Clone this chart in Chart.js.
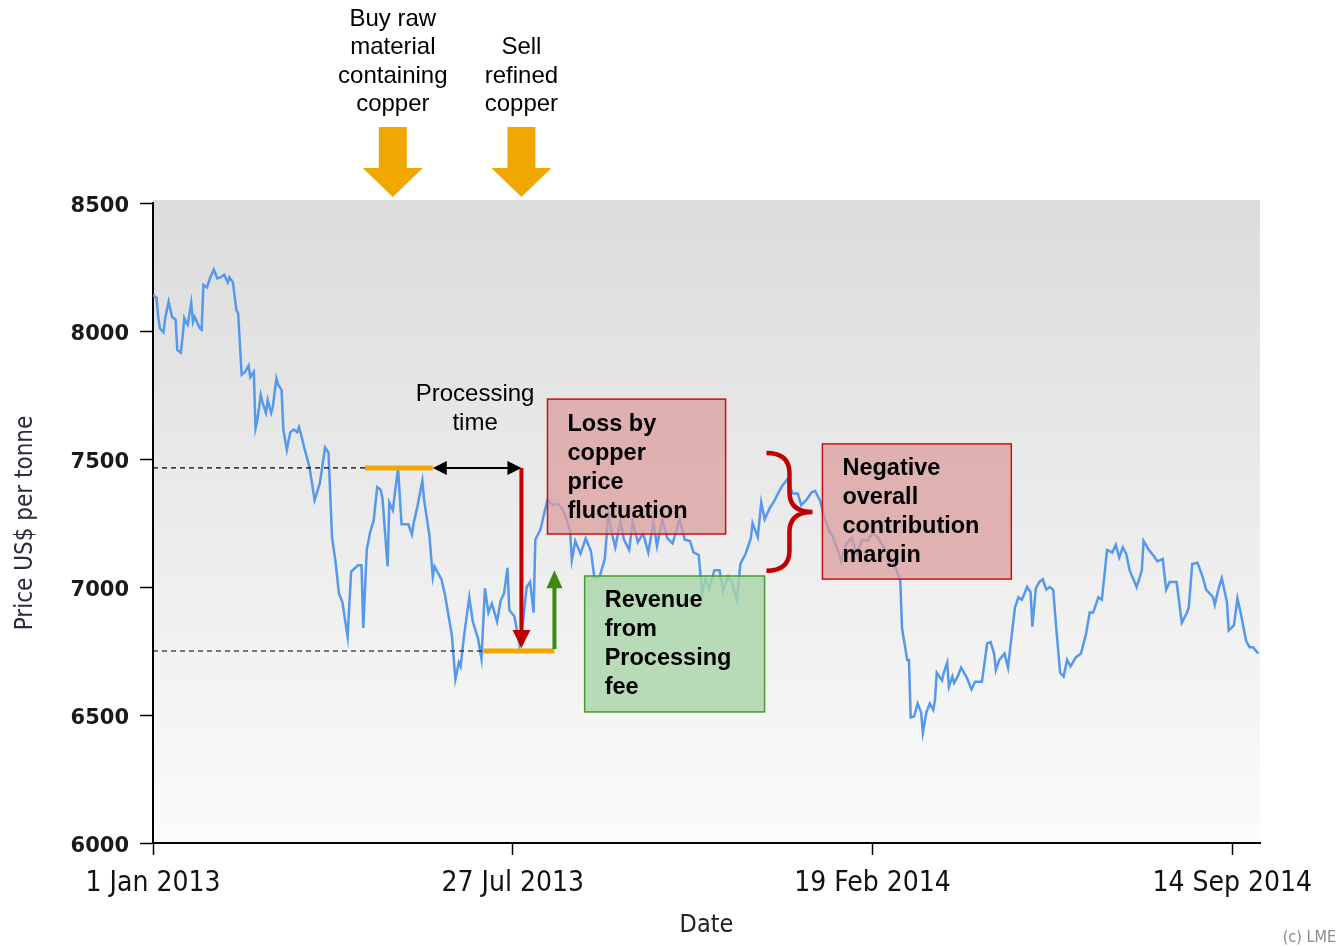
<!DOCTYPE html>
<html>
<head>
<meta charset="utf-8">
<script src="https://cdn.jsdelivr.net/npm/chart.js@4.4.0/dist/chart.umd.min.js"></script>
<style>
html, body { margin: 0; padding: 0; background: #fff; }
#wrap { width: 1338px; height: 947px; position: relative; }
</style>
</head>
<body>
<div id="wrap"><canvas id="chart" width="1338" height="947"></canvas></div>
<script>
// LME copper cash price, days counted from 1 Jan 2013
var days = [
  0,2,3,4,6,7,9,11,13,14,
  16,17,18,19,20,22,23,24,27,28,
  29,31,33,35,37,39,41,43,44,46,
  48,49,51,53,55,56,58,59,60,62,
  63,65,66,68,69,71,72,74,75,77,
  79,81,83,84,86,87,90,93,96,99,
  101,103,105,107,109,112,114,118,120,121,
  123,125,127,129,131,132,135,136,138,141,
  143,147,149,150,152,155,156,159,161,162,
  166,168,172,174,176,177,179,182,184,187,
  189,191,193,195,198,200,202,204,205,208,
  211,213,215,217,219,220,223,225,227,230,
  233,236,240,241,243,246,249,252,254,257,
  260,262,264,266,269,271,274,276,279,282,
  285,288,290,293,296,299,303,306,309,311,
  314,316,318,320,323,326,328,331,333,336,
  338,341,344,345,348,350,352,355,357,360,
  362,365,366,368,371,373,376,379,381,384,
  386,389,391,394,396,399,402,405,408,411,
  414,417,420,423,426,428,430,431,434,435,
  436,438,440,442,443,445,447,449,450,451,
  454,455,457,458,460,461,463,465,468,471,
  473,477,480,482,484,485,487,490,492,494,
  496,498,500,503,505,506,508,510,512,514,
  516,518,520,522,524,526,528,531,534,537,
  539,541,544,546,549,552,554,556,558,560,
  562,566,569,570,573,576,578,581,583,585,
  589,592,595,596,598,601,604,606,610,611,
  613,615,618,619,622,624,626,629,631,633,
  636
];
var prices = [
  8140,8130,8055,8010,7995,8050,8115,8055,8045,7925,
  7915,7975,8050,8035,8025,8110,8035,8055,8010,8005,
  8180,8170,8210,8240,8205,8210,8220,8190,8210,8190,
  8080,8070,7830,7840,7865,7820,7840,7620,7650,7750,
  7720,7680,7730,7680,7705,7815,7790,7770,7615,7535,
  7605,7615,7605,7625,7575,7545,7470,7340,7405,7545,
  7525,7195,7100,6975,6940,6805,7060,7085,7085,6840,
  7145,7215,7260,7390,7380,7350,7080,7330,7300,7465,
  7245,7245,7205,7250,7310,7415,7340,7205,7040,7080,
  7030,6970,6810,6640,6705,6690,6810,6960,6865,6800,
  6720,6995,6900,6935,6865,6945,6975,7075,6910,6885,
  6770,6870,7000,7020,6900,7185,7225,7285,7340,7320,
  7325,7300,7220,7105,7180,7130,7190,7140,7035,7040,
  7110,7290,7210,7155,7260,7185,7145,7255,7175,7210,
  7135,7255,7160,7265,7190,7170,7265,7185,7180,7135,
  7125,6975,7030,6990,7065,7065,6985,7040,7020,6950,
  7090,7130,7190,7250,7195,7330,7265,7310,7330,7370,
  7395,7420,7405,7365,7365,7320,7340,7370,7375,7335,
  7280,7220,7200,7145,7100,7170,7190,7130,7185,7180,
  7210,7195,7160,7135,7095,7065,7025,6840,6715,6715,
  6490,6495,6545,6510,6430,6510,6545,6520,6560,6665,
  6635,6665,6705,6610,6650,6625,6650,6685,6650,6600,
  6630,6630,6780,6785,6740,6675,6715,6740,6685,6805,
  6920,6960,6950,7000,6980,6845,6995,7020,7030,6990,
  7000,6990,6820,6665,6650,6715,6690,6725,6740,6820,
  6900,6900,6960,6950,7145,7135,7165,7115,7155,7130,
  7065,7000,7065,7180,7145,7120,7100,7110,6990,7020,
  7020,6860,6900,6920,7090,7095,7040,6990,6960,6930,
  6990,7035,6940,6830,6850,6955,6895,6790,6765,6765,
  6740
];
var tickDays = [0, 207, 414, 621];
var tickLabels = ['1 Jan 2013', '27 Jul 2013', '19 Feb 2014', '14 Sep 2014'];
var priceTicks = [6000, 6500, 7000, 7500, 8000, 8500];

// annotation levels (days / US$)
var buyDay = 138, sellDay = 212;
var buyPrice = 7465, sellPrice = 6750;
var buyBar = [122, 161], sellBar = [190, 231];
var redTip = 6762, greenDay = 231, greenTip = 7065;

var points = days.map(function (d, i) { return { x: d, y: prices[i] }; });

var ORANGE = '#f0a800', RED = '#c00000', GREEN = '#3b8a14';

function head(ctx, x, y, dir, len, half, color) {
  ctx.fillStyle = color;
  ctx.beginPath();
  ctx.moveTo(x, y);
  if (dir === 'left') { ctx.lineTo(x + len, y - half); ctx.lineTo(x + len, y + half); }
  if (dir === 'right') { ctx.lineTo(x - len, y - half); ctx.lineTo(x - len, y + half); }
  if (dir === 'down') { ctx.lineTo(x - half, y - len); ctx.lineTo(x + half, y - len); }
  if (dir === 'up') { ctx.lineTo(x - half, y + len); ctx.lineTo(x + half, y + len); }
  ctx.closePath();
  ctx.fill();
}

function lines(ctx, arr, x, y0, step) {
  arr.forEach(function (t, i) { ctx.fillText(t, x, y0 + i * step); });
}

function box(ctx, sx, sy, d0, d1, p0, p1, fill, stroke, text) {
  var l = sx.getPixelForValue(d0), r = sx.getPixelForValue(d1);
  var t = sy.getPixelForValue(p0), b = sy.getPixelForValue(p1);
  ctx.fillStyle = fill;
  ctx.fillRect(l, t, r - l, b - t);
  ctx.strokeStyle = stroke;
  ctx.lineWidth = 1.5;
  ctx.strokeRect(l, t, r - l, b - t);
  ctx.fillStyle = '#000';
  ctx.font = 'bold 23.5px "Liberation Sans", Arial, sans-serif';
  ctx.textAlign = 'left';
  ctx.textBaseline = 'middle';
  lines(ctx, text, l + 20, t + 25, 29);
}

var plotBg = {
  id: 'plotBg',
  beforeDraw: function (chart) {
    var a = chart.chartArea, ctx = chart.ctx;
    var g = ctx.createLinearGradient(0, a.top, 0, a.bottom);
    g.addColorStop(0, '#dcdcdc');
    g.addColorStop(1, '#fbfbfb');
    ctx.save();
    ctx.fillStyle = g;
    ctx.fillRect(a.left, a.top - 3, a.right - a.left, a.bottom - a.top + 3);
    ctx.restore();
  }
};

var notesPlugin = {
  id: 'notes',
  afterDatasetsDraw: function (chart) {
    var ctx = chart.ctx, sx = chart.scales.x, sy = chart.scales.y, a = chart.chartArea;
    ctx.save();

    // dashed reference levels
    var yBuy = sy.getPixelForValue(buyPrice), ySell = sy.getPixelForValue(sellPrice);
    ctx.strokeStyle = '#000';
    ctx.lineWidth = 1.2;
    ctx.setLineDash([5, 4]);
    ctx.beginPath();
    ctx.moveTo(a.left, yBuy); ctx.lineTo(sx.getPixelForValue(buyBar[0]), yBuy);
    ctx.moveTo(a.left, ySell); ctx.lineTo(sx.getPixelForValue(sellBar[0]), ySell);
    ctx.stroke();
    ctx.setLineDash([]);

    // orange price bars
    ctx.strokeStyle = ORANGE;
    ctx.lineWidth = 5;
    ctx.beginPath();
    ctx.moveTo(sx.getPixelForValue(buyBar[0]), yBuy); ctx.lineTo(sx.getPixelForValue(buyBar[1]), yBuy);
    ctx.moveTo(sx.getPixelForValue(sellBar[0]), ySell); ctx.lineTo(sx.getPixelForValue(sellBar[1]), ySell);
    ctx.stroke();

    // processing time double arrow
    var xa = sx.getPixelForValue(buyBar[1]), xs = sx.getPixelForValue(sellDay);
    ctx.strokeStyle = '#000';
    ctx.lineWidth = 2;
    ctx.beginPath();
    ctx.moveTo(xa + 10, yBuy); ctx.lineTo(xs - 10, yBuy);
    ctx.stroke();
    head(ctx, xa, yBuy, 'left', 14, 7, '#000');
    head(ctx, xs, yBuy, 'right', 14, 7, '#000');

    ctx.fillStyle = '#000';
    ctx.font = '24px "Liberation Sans", Arial, sans-serif';
    ctx.textAlign = 'center';
    ctx.textBaseline = 'middle';
    lines(ctx, ['Processing', 'time'], (xa + xs) / 2 - 2, yBuy - 74, 29);

    // red drop arrow
    var yRed = sy.getPixelForValue(redTip);
    ctx.strokeStyle = RED;
    ctx.lineWidth = 4;
    ctx.beginPath();
    ctx.moveTo(xs, yBuy); ctx.lineTo(xs, yRed - 14);
    ctx.stroke();
    head(ctx, xs, yRed, 'down', 18, 9, RED);

    // green fee arrow
    var xg = sx.getPixelForValue(greenDay), yg = sy.getPixelForValue(greenTip);
    ctx.strokeStyle = GREEN;
    ctx.lineWidth = 4;
    ctx.beginPath();
    ctx.moveTo(xg, ySell - 2); ctx.lineTo(xg, yg + 16);
    ctx.stroke();
    head(ctx, xg, yg, 'up', 18, 8, GREEN);

    // boxes
    box(ctx, sx, sy, 227, 329.5, 7734, 7207, 'rgba(219,158,158,0.75)', '#cc1010',
      ['Loss by', 'copper', 'price', 'fluctuation']);
    box(ctx, sx, sy, 248.4, 351.9, 7043, 6512, 'rgba(168,214,168,0.82)', '#4a9a30',
      ['Revenue', 'from', 'Processing', 'fee']);
    box(ctx, sx, sy, 385.2, 493.9, 7559, 7031, 'rgba(219,158,158,0.75)', '#cc1010',
      ['Negative', 'overall', 'contribution', 'margin']);

    // curly brace
    var b0 = sx.getPixelForValue(353), bt = sx.getPixelForValue(379.5);
    var bm = b0 + 23;
    var top = sy.getPixelForValue(7523), bot = sy.getPixelForValue(7063), mid = sy.getPixelForValue(7293);
    var r = 20;
    ctx.strokeStyle = RED;
    ctx.lineWidth = 4.5;
    ctx.beginPath();
    ctx.moveTo(b0, top);
    ctx.quadraticCurveTo(bm, top, bm, top + r);
    ctx.lineTo(bm, mid - r);
    ctx.quadraticCurveTo(bm, mid, bt, mid);
    ctx.quadraticCurveTo(bm, mid, bm, mid + r);
    ctx.lineTo(bm, bot - r);
    ctx.quadraticCurveTo(bm, bot, b0, bot);
    ctx.stroke();

    // header: buy / sell markers
    [buyDay, sellDay].forEach(function (d) {
      var cx = sx.getPixelForValue(d);
      ctx.fillStyle = ORANGE;
      ctx.beginPath();
      ctx.moveTo(cx - 14, 127); ctx.lineTo(cx + 14, 127); ctx.lineTo(cx + 14, 168);
      ctx.lineTo(cx + 30, 168); ctx.lineTo(cx, 197); ctx.lineTo(cx - 30, 168);
      ctx.lineTo(cx - 14, 168);
      ctx.closePath();
      ctx.fill();
    });
    ctx.fillStyle = '#000';
    ctx.font = '24px "Liberation Sans", Arial, sans-serif';
    ctx.textAlign = 'center';
    lines(ctx, ['Buy raw', 'material', 'containing', 'copper'], sx.getPixelForValue(buyDay), 19, 28.6);
    lines(ctx, ['Sell', 'refined', 'copper'], sx.getPixelForValue(sellDay), 47.6, 28.6);

    // source note
    ctx.fillStyle = '#8a8a8a';
    ctx.font = '16px "DejaVu Sans Condensed", sans-serif';
    ctx.textAlign = 'right';
    ctx.fillText('(c) LME', 1336, 938);
    ctx.restore();
  }
};

new Chart(document.getElementById('chart'), {
  type: 'line',
  data: {
    datasets: [{
      label: 'Copper',
      data: points,
      borderColor: '#5698ec',
      borderWidth: 2.5,
      pointRadius: 0,
      tension: 0,
      fill: false
    }]
  },
  options: {
    responsive: false,
    animation: false,
    devicePixelRatio: 1,
    layout: { padding: { top: 203, right: 78, left: 0, bottom: 0 } },
    plugins: { legend: { display: false }, tooltip: { enabled: false } },
    scales: {
      x: {
        type: 'linear',
        min: 0,
        max: 637,
        afterBuildTicks: function (s) { s.ticks = tickDays.map(function (v) { return { value: v }; }); },
        afterFit: function (s) { s.height = 104; },
        ticks: {
          autoSkip: false,
          maxRotation: 0,
          padding: 12,
          color: '#111',
          font: { family: '"DejaVu Sans Condensed", sans-serif', size: 28 },
          callback: function (v) { var i = tickDays.indexOf(v); return i < 0 ? '' : tickLabels[i]; }
        },
        grid: { drawOnChartArea: false, drawTicks: true, tickLength: 12, tickColor: '#000', tickWidth: 1.5 },
        border: { color: '#000', width: 2 },
        title: {
          display: true, text: 'Date', color: '#222',
          font: { family: '"DejaVu Sans Condensed", sans-serif', size: 25 },
          padding: { top: 0, bottom: 7 }
        }
      },
      y: {
        min: 6000,
        max: 8500,
        afterBuildTicks: function (s) { s.ticks = priceTicks.map(function (v) { return { value: v }; }); },
        afterFit: function (s) { s.width = 153; },
        ticks: {
          padding: 11,
          labelOffset: 4,
          color: '#1a1a1a',
          font: { family: '"DejaVu Sans", sans-serif', size: 21, weight: 'bold' },
          callback: function (v) { return String(v); }
        },
        grid: { drawOnChartArea: false, drawTicks: true, tickLength: 13, tickColor: '#000', tickWidth: 1.5 },
        border: { color: '#000', width: 2 },
        title: {
          display: true, text: 'Price US$ per tonne', color: '#2b2b3d',
          font: { family: '"DejaVu Sans Condensed", sans-serif', size: 24 },
          padding: { top: 11, bottom: 0 }
        }
      }
    }
  },
  plugins: [plotBg, notesPlugin]
});
</script>
</body>
</html>
